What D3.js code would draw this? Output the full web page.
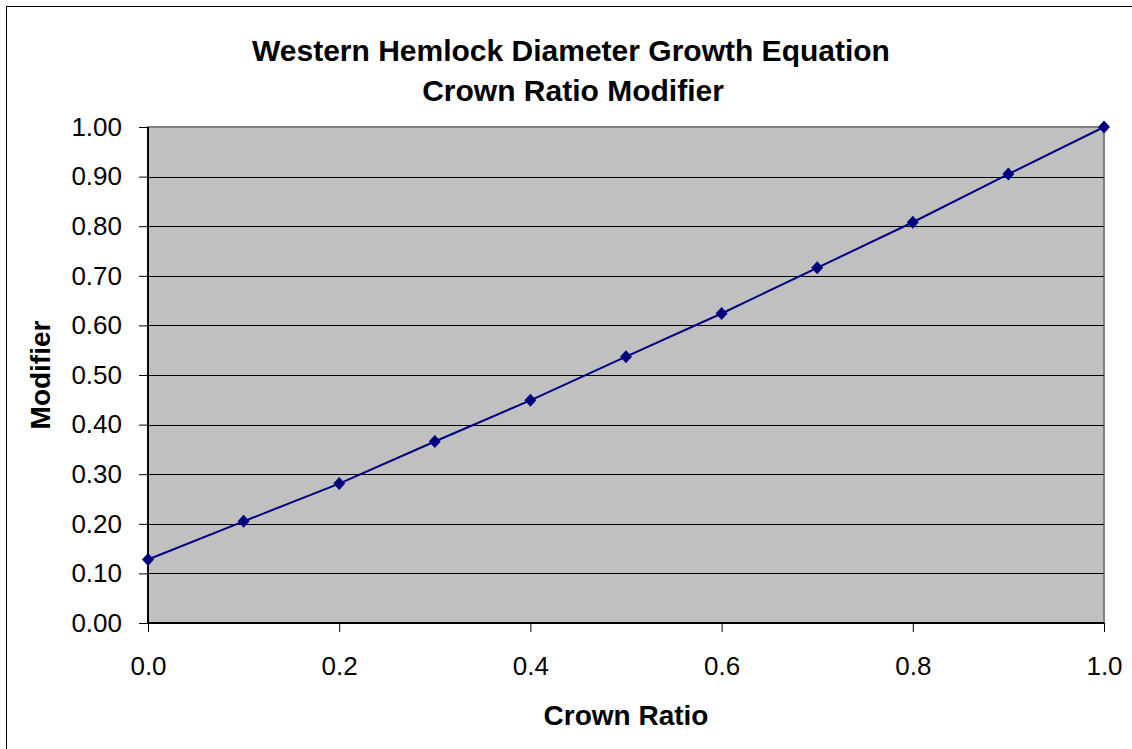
<!DOCTYPE html>
<html>
<head>
<meta charset="utf-8">
<script src="https://d3js.org/d3.v7.min.js"></script>
<style>
  body { margin: 0; background: #fff; }
  text { font-family: "Liberation Sans", Arial, sans-serif; }
</style>
</head>
<body>
<div id="chart"></div>
<script>
// data
var crownRatio = [0.0, 0.1, 0.2, 0.3, 0.4, 0.5, 0.6, 0.7, 0.8, 0.9, 1.0];
var modifier = [0.128, 0.205, 0.281, 0.366, 0.449, 0.537, 0.624, 0.716, 0.808, 0.905, 1.0];
var xTicks = [0.0, 0.2, 0.4, 0.6, 0.8, 1.0];
var yTicks = [0.0, 0.1, 0.2, 0.3, 0.4, 0.5, 0.6, 0.7, 0.8, 0.9, 1.0];
var titleLines = ["Western Hemlock Diameter Growth Equation", "Crown Ratio Modifier"];

var W = 1132, H = 749;
var margin = {top: 127, right: 28, bottom: 126, left: 148},
    width = W - margin.left - margin.right,
    height = H - margin.top - margin.bottom;

var svg = d3.select("#chart").append("svg")
    .attr("width", W)
    .attr("height", H);

// outer chart border
svg.append("rect")
    .attr("x", 6.5).attr("y", 6.5)
    .attr("width", W + 10).attr("height", H + 10)
    .attr("fill", "#fff")
    .attr("stroke", "#000")
    .attr("stroke-width", 1);

// title
svg.append("text")
    .attr("x", 571).attr("y", 61)
    .attr("text-anchor", "middle")
    .style("font-size", "30px").style("font-weight", "bold")
    .text(titleLines[0]);
svg.append("text")
    .attr("x", 573).attr("y", 101)
    .attr("text-anchor", "middle")
    .style("font-size", "30px").style("font-weight", "bold")
    .text(titleLines[1]);

var g = svg.append("g")
    .attr("transform", "translate(" + margin.left + "," + margin.top + ")");

var x = d3.scaleLinear().domain([0, 1]).range([0, width]);
var y = d3.scaleLinear().domain([0, 1]).range([height, 0]);

// plot area
g.append("rect")
    .attr("width", width).attr("height", height)
    .attr("fill", "#c0c0c0")
    .attr("stroke", "#808080")
    .attr("stroke-width", 2);

// gridlines
g.append("g")
    .selectAll("line")
    .data(yTicks.filter(function (d) { return d > 0 && d < 1; }))
    .enter().append("line")
    .attr("x1", 0).attr("x2", width)
    .attr("y1", function (d) { return Math.round(y(d)) + 0.5; })
    .attr("y2", function (d) { return Math.round(y(d)) + 0.5; })
    .attr("stroke", "#000")
    .attr("stroke-width", 1);

// y axis
var yAxis = g.append("g")
    .call(d3.axisLeft(y).tickValues(yTicks).tickFormat(d3.format(".2f")).tickSize(9).tickPadding(17));
yAxis.select(".domain").attr("stroke", "#000").attr("stroke-width", 2).attr("d", "M0,0V" + height);
yAxis.selectAll("text").style("font-size", "26px").attr("fill", "#000");

// x axis
var xAxis = g.append("g")
    .attr("transform", "translate(0," + height + ")")
    .call(d3.axisBottom(x).tickValues(xTicks).tickFormat(d3.format(".1f")).tickSize(9).tickPadding(25));
xAxis.select(".domain").attr("stroke", "#000").attr("stroke-width", 2).attr("d", "M0,0H" + width);
xAxis.selectAll("text").style("font-size", "26px").attr("fill", "#000");

// axis titles
svg.append("text")
    .attr("x", 626).attr("y", 725)
    .attr("text-anchor", "middle")
    .style("font-size", "28px").style("font-weight", "bold")
    .text("Crown Ratio");
svg.append("text")
    .attr("transform", "translate(50," + (margin.top + height / 2) + ") rotate(-90)")
    .attr("text-anchor", "middle")
    .style("font-size", "28px").style("font-weight", "bold")
    .text("Modifier");

// line + markers
var pts = crownRatio.map(function (d, i) { return [d, modifier[i]]; });
g.append("path")
    .datum(pts)
    .attr("fill", "none")
    .attr("stroke", "#000080")
    .attr("stroke-width", 2)
    .attr("d", d3.line().x(function (d) { return x(d[0]); }).y(function (d) { return y(d[1]); }));

g.append("g")
    .selectAll("path")
    .data(pts)
    .enter().append("path")
    .attr("transform", function (d) { return "translate(" + x(d[0]) + "," + y(d[1]) + ")"; })
    .attr("d", "M0,-6.5L6,0L0,6.5L-6,0Z")
    .attr("fill", "#000080");
</script>
</body>
</html>
